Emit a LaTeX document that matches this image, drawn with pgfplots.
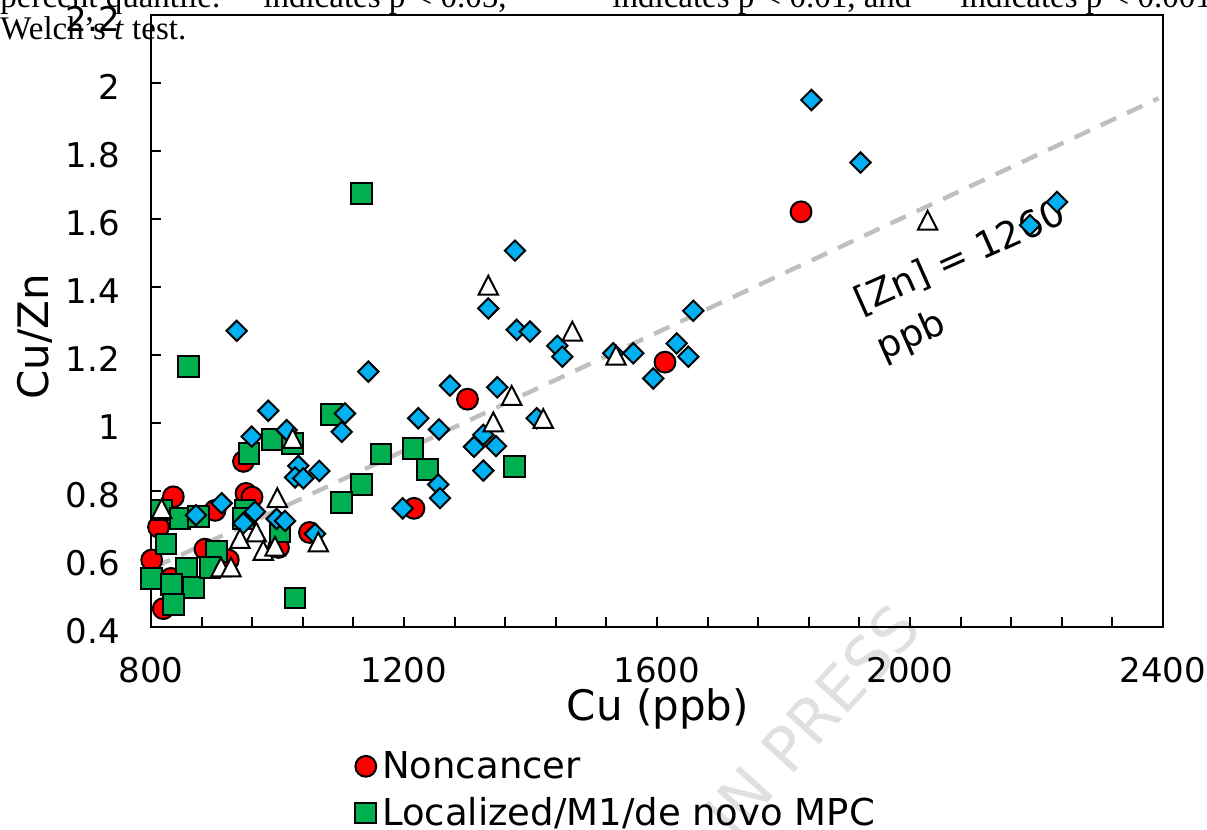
\documentclass[border=0pt]{standalone}
\usepackage{fontspec}
\setmainfont{DejaVu Sans}
\newfontfamily\headserif{Liberation Serif}
\usepackage{pgfplots}
\pgfplotsset{compat=1.18}
\definecolor{ncred}{RGB}{255,0,0}
\definecolor{locgreen}{RGB}{0,176,80}
\definecolor{diablue}{RGB}{0,176,240}
\definecolor{dashgray}{RGB}{191,191,191}
\begin{document}
\begin{tikzpicture}
% watermark (behind everything)
\node[rotate=48, anchor=base east, inner sep=0pt, text=black!12,
      font=\fontsize{31}{36}\selectfont] at (462pt,100pt) {IN PRESS};
\begin{axis}[
  at={(75.5pt,101.5pt)}, anchor=south west,
  scale only axis, width=506pt, height=306pt,
  xmin=800, xmax=2400, ymin=0.4, ymax=2.2,
  xtick={800,1200,1600,2000,2400},
  xticklabels={800,1200,1600,2000,2400},
  minor x tick num=4,
  ytick={0.4,0.6,0.8,1,1.2,1.4,1.6,1.8,2,2.2},
  yticklabels={0.4,0.6,0.8,1,1.2,1.4,1.6,1.8,2,2.2},
  tick pos=left,
  tick align=inside,
  major tick length=5pt, minor tick length=5pt,
  every tick/.style={black, line width=1pt},
  axis line style={line width=1.2pt},
  tick label style={font=\fontsize{17}{20}\selectfont},
  xticklabel style={anchor=center, yshift=-21.5pt},
  yticklabel style={xshift=-12pt, yshift=-2pt},
  xlabel={Cu (ppb)}, ylabel={Cu/Zn},
  every axis x label/.style={at={(axis description cs:0.501,-0.134)}, anchor=center,
    font=\fontsize{21}{25}\selectfont},
  every axis y label/.style={at={(axis description cs:-0.1150,0.4739)}, anchor=center,
    rotate=90, font=\fontsize{21}{25}\selectfont},
  clip=false,
  legend style={draw=none, fill=none, at={(axis description cs:0.2016,-0.2100)},
    anchor=north west, font=\fontsize{18.5}{22}\selectfont, row sep=9.5pt,
    inner sep=0pt, column sep=3pt,
    nodes={inner sep=0pt, text height=0.75em, text depth=0.25em}},
  legend cell align=left,
  legend image code/.code={\draw[#1] plot coordinates {(0pt,0.36em)};},
]
% Noncancer
\addplot[only marks, mark=*, mark size=5.2pt,
  mark options={fill=ncred, draw=black, line width=1pt}] coordinates {
(1827.7,1.621) (1612.6,1.179) (1300.4,1.070) (1215.8,0.749) (1050.6,0.678)
(946.2,0.887) (950.2,0.793) (959.7,0.782) (835.3,0.783) (901.2,0.743)
(811.9,0.694) (801.1,0.597) (885.4,0.629) (922.2,0.597) (1001.6,0.634)
(831.6,0.543) (819.4,0.454)
};
\addlegendentry{Noncancer}
% Localized/M1/de novo MPC
\addplot[only marks, mark=square*, mark size=5.2pt,
  mark options={fill=locgreen, draw=black, line width=1pt}] coordinates {
(1133.1,1.676) (859.0,1.166) (1085.7,1.024) (1163.6,0.909) (1214.2,0.926)
(1237.1,0.864) (1133.1,0.819) (1101.5,0.765) (1374.7,0.872) (1027.7,0.485)
(992.4,0.951) (1024.0,0.939) (954.9,0.910) (948.6,0.744) (945.9,0.718)
(1003.9,0.682) (816.9,0.744) (845.8,0.720) (874.8,0.724) (823.7,0.644)
(801.1,0.543) (856.4,0.571) (832.7,0.524) (866.9,0.515) (835.3,0.465)
(903.6,0.621) (893.3,0.575)
};
\addlegendentry{Localized/M1/de novo MPC}
% blue diamonds
\addplot[only marks, mark=square*, mark size=3.6pt, forget plot,
  mark options={rotate=45, fill=diablue, draw=black, line width=1pt}] coordinates {
(1844.2,1.950) (1921.7,1.766) (2232.4,1.650) (2189.7,1.582) (1375.5,1.507)
(1333.3,1.337) (1378.2,1.274) (1399.2,1.269) (935.5,1.271) (1143.6,1.151)
(1442.4,1.227) (1450.3,1.195) (1657.4,1.330) (1631.1,1.234) (1649.5,1.195)
(1562.5,1.205) (1530.9,1.205) (1594.1,1.131) (1272.7,1.110) (1347.5,1.105)
(1222.6,1.014) (1255.3,0.981) (1409.8,1.014) (1325.4,0.965) (1310.7,0.930)
(1345.4,0.932) (1325.4,0.860) (1254.2,0.819) (1256.9,0.779) (1106.7,1.028)
(1101.5,0.974) (1197.9,0.749) (985.5,1.036) (959.2,0.960) (1014.5,0.979)
(1032.9,0.874) (1066.1,0.859) (1027.7,0.840) (1040.8,0.837) (911.8,0.764)
(964.4,0.739) (945.9,0.705) (998.7,0.718) (1011.9,0.712) (1059.3,0.674)
(871.1,0.729)
};
% white triangles
\addplot[only marks, mark=triangle*, mark size=5.6pt, forget plot,
  mark options={yscale=1.12, fill=white, draw=black, line width=1pt}] coordinates {
(2027.9,1.587) (1333.3,1.396) (1466.1,1.261) (1535.2,1.190) (1370.3,1.072)
(1341.2,0.994) (1420.2,1.004) (1024.0,0.945) (999.7,0.771) (940.7,0.651)
(966.5,0.670) (977.5,0.616) (996.0,0.628) (1064.5,0.641) (910.7,0.567)
(926.5,0.567) (816.9,0.739)
};
% [Zn] = 1260 ppb line
\addplot[dashgray, line width=2.2pt, dash pattern=on 8.5pt off 6pt, forget plot] coordinates {
(806,0.576) (2393,1.955)
};
\node[rotate=24, anchor=base west, inner sep=0pt, font=\fontsize{18.5}{22}\selectfont]
  at (axis cs:1923,1.319) {[Zn] = 1260};
\node[rotate=24, anchor=base west, inner sep=0pt, font=\fontsize{18.5}{22}\selectfont]
  at (axis cs:1958,1.184) {ppb};
\end{axis}
% caption text from the page above
\begin{scope}[every node/.style={anchor=base west, inner sep=0pt,
    font=\headserif\fontsize{16.5}{19}\selectfont}]
\node at (0pt,411pt) {percent quantile.};
\node at (131.5pt,411pt) {indicates p < 0.05,};
\node at (306pt,411pt) {indicates p < 0.01, and};
\node at (480pt,411pt) {indicates p < 0.001};
\node at (0pt,395pt) {Welch’s \textit{t} test.};
\end{scope}
\pgfresetboundingbox
\useasboundingbox (0,0) rectangle (603.5pt,415pt);
\end{tikzpicture}
\end{document}
